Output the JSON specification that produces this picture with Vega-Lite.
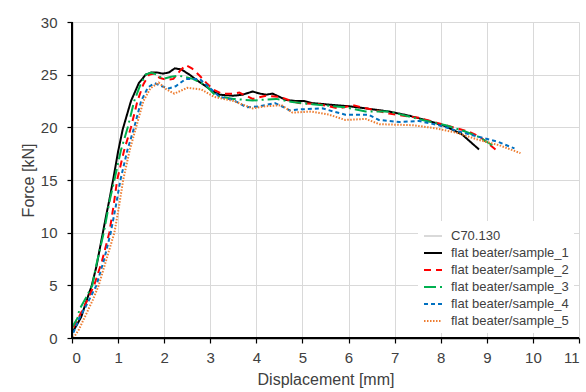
{
  "$schema": "https://vega.github.io/schema/vega-lite/v6.json",
  "width": 507,
  "height": 316,
  "autosize": {"type": "none"},
  "padding": {"left": 72, "top": 22, "right": 7, "bottom": 54},
  "config": {
    "view": {"stroke": null},
    "axis": {
      "domainColor": "#000000",
      "tickColor": "#000000",
      "domainWidth": 1.3,
      "tickWidth": 1.2,
      "gridColor": "#d9d9d9",
      "labelFont": "Liberation Sans",
      "labelFontSize": 15,
      "labelColor": "#404040",
      "titleFont": "Liberation Sans",
      "titleFontSize": 16,
      "titleFontWeight": "normal",
      "titleColor": "#404040"
    }
  },
  "data": {
    "values": [
      {"s": "flat beater/sample_1", "d": 0, "f": 0.5},
      {"s": "flat beater/sample_1", "d": 0.1, "f": 1.2},
      {"s": "flat beater/sample_1", "d": 0.2, "f": 2.0},
      {"s": "flat beater/sample_1", "d": 0.32, "f": 3.6},
      {"s": "flat beater/sample_1", "d": 0.43, "f": 5.0},
      {"s": "flat beater/sample_1", "d": 0.53, "f": 6.8},
      {"s": "flat beater/sample_1", "d": 0.6, "f": 8.4},
      {"s": "flat beater/sample_1", "d": 0.67, "f": 10.0},
      {"s": "flat beater/sample_1", "d": 0.74, "f": 11.6},
      {"s": "flat beater/sample_1", "d": 0.81, "f": 13.1},
      {"s": "flat beater/sample_1", "d": 0.9, "f": 15.2},
      {"s": "flat beater/sample_1", "d": 1.0, "f": 17.7},
      {"s": "flat beater/sample_1", "d": 1.1, "f": 19.8},
      {"s": "flat beater/sample_1", "d": 1.28, "f": 22.5},
      {"s": "flat beater/sample_1", "d": 1.45, "f": 24.2},
      {"s": "flat beater/sample_1", "d": 1.6, "f": 25.0},
      {"s": "flat beater/sample_1", "d": 1.72, "f": 25.2},
      {"s": "flat beater/sample_1", "d": 1.85, "f": 25.2},
      {"s": "flat beater/sample_1", "d": 1.97, "f": 25.1},
      {"s": "flat beater/sample_1", "d": 2.1, "f": 25.2},
      {"s": "flat beater/sample_1", "d": 2.23, "f": 25.6},
      {"s": "flat beater/sample_1", "d": 2.37, "f": 25.5},
      {"s": "flat beater/sample_1", "d": 2.55, "f": 25.0},
      {"s": "flat beater/sample_1", "d": 2.7, "f": 24.5},
      {"s": "flat beater/sample_1", "d": 2.87, "f": 24.0},
      {"s": "flat beater/sample_1", "d": 3.03, "f": 23.5},
      {"s": "flat beater/sample_1", "d": 3.2, "f": 23.1},
      {"s": "flat beater/sample_1", "d": 3.5, "f": 23.0},
      {"s": "flat beater/sample_1", "d": 3.7, "f": 23.1},
      {"s": "flat beater/sample_1", "d": 3.92, "f": 23.4},
      {"s": "flat beater/sample_1", "d": 4.08, "f": 23.2},
      {"s": "flat beater/sample_1", "d": 4.21, "f": 23.1},
      {"s": "flat beater/sample_1", "d": 4.35, "f": 23.2},
      {"s": "flat beater/sample_1", "d": 4.5, "f": 22.9},
      {"s": "flat beater/sample_1", "d": 4.64, "f": 22.6},
      {"s": "flat beater/sample_1", "d": 4.86, "f": 22.5},
      {"s": "flat beater/sample_1", "d": 5.03, "f": 22.5},
      {"s": "flat beater/sample_1", "d": 5.21, "f": 22.3},
      {"s": "flat beater/sample_1", "d": 5.47, "f": 22.2},
      {"s": "flat beater/sample_1", "d": 5.72, "f": 22.1},
      {"s": "flat beater/sample_1", "d": 6.02, "f": 22.0},
      {"s": "flat beater/sample_1", "d": 6.37, "f": 21.8},
      {"s": "flat beater/sample_1", "d": 6.88, "f": 21.5},
      {"s": "flat beater/sample_1", "d": 7.32, "f": 21.1},
      {"s": "flat beater/sample_1", "d": 7.75, "f": 20.6},
      {"s": "flat beater/sample_1", "d": 8.11, "f": 20.1},
      {"s": "flat beater/sample_1", "d": 8.47, "f": 19.3},
      {"s": "flat beater/sample_1", "d": 8.65, "f": 18.6},
      {"s": "flat beater/sample_1", "d": 8.83, "f": 17.9},

      {"s": "flat beater/sample_2", "d": 0.03, "f": 1.0},
      {"s": "flat beater/sample_2", "d": 0.15, "f": 2.0},
      {"s": "flat beater/sample_2", "d": 0.3, "f": 3.3},
      {"s": "flat beater/sample_2", "d": 0.48, "f": 5.0},
      {"s": "flat beater/sample_2", "d": 0.65, "f": 7.3},
      {"s": "flat beater/sample_2", "d": 0.81, "f": 10.0},
      {"s": "flat beater/sample_2", "d": 0.9, "f": 12.5},
      {"s": "flat beater/sample_2", "d": 0.98, "f": 15.0},
      {"s": "flat beater/sample_2", "d": 1.13, "f": 17.8},
      {"s": "flat beater/sample_2", "d": 1.28, "f": 20.0},
      {"s": "flat beater/sample_2", "d": 1.42, "f": 22.5},
      {"s": "flat beater/sample_2", "d": 1.55, "f": 24.1},
      {"s": "flat beater/sample_2", "d": 1.67, "f": 25.0},
      {"s": "flat beater/sample_2", "d": 1.78, "f": 25.1},
      {"s": "flat beater/sample_2", "d": 1.9, "f": 24.7},
      {"s": "flat beater/sample_2", "d": 2.05, "f": 24.5},
      {"s": "flat beater/sample_2", "d": 2.2, "f": 24.6},
      {"s": "flat beater/sample_2", "d": 2.35, "f": 25.4},
      {"s": "flat beater/sample_2", "d": 2.47, "f": 25.9},
      {"s": "flat beater/sample_2", "d": 2.6, "f": 25.6},
      {"s": "flat beater/sample_2", "d": 2.77, "f": 24.9},
      {"s": "flat beater/sample_2", "d": 2.92, "f": 24.2},
      {"s": "flat beater/sample_2", "d": 3.06, "f": 23.6},
      {"s": "flat beater/sample_2", "d": 3.25, "f": 23.2},
      {"s": "flat beater/sample_2", "d": 3.48, "f": 23.2},
      {"s": "flat beater/sample_2", "d": 3.63, "f": 23.3},
      {"s": "flat beater/sample_2", "d": 3.92, "f": 22.7},
      {"s": "flat beater/sample_2", "d": 4.21, "f": 23.0},
      {"s": "flat beater/sample_2", "d": 4.5, "f": 22.9},
      {"s": "flat beater/sample_2", "d": 4.7, "f": 22.6},
      {"s": "flat beater/sample_2", "d": 4.92, "f": 22.3},
      {"s": "flat beater/sample_2", "d": 5.36, "f": 22.2},
      {"s": "flat beater/sample_2", "d": 5.79, "f": 21.8},
      {"s": "flat beater/sample_2", "d": 6.09, "f": 22.1},
      {"s": "flat beater/sample_2", "d": 6.6, "f": 21.6},
      {"s": "flat beater/sample_2", "d": 6.88, "f": 21.3},
      {"s": "flat beater/sample_2", "d": 7.53, "f": 20.9},
      {"s": "flat beater/sample_2", "d": 8.11, "f": 20.2},
      {"s": "flat beater/sample_2", "d": 8.6, "f": 19.6},
      {"s": "flat beater/sample_2", "d": 8.85, "f": 19.1},
      {"s": "flat beater/sample_2", "d": 9.05, "f": 18.4},
      {"s": "flat beater/sample_2", "d": 9.27, "f": 17.6},

      {"s": "flat beater/sample_3", "d": 0, "f": 1.0},
      {"s": "flat beater/sample_3", "d": 0.12, "f": 1.9},
      {"s": "flat beater/sample_3", "d": 0.16, "f": 2.7},
      {"s": "flat beater/sample_3", "d": 0.3, "f": 3.8},
      {"s": "flat beater/sample_3", "d": 0.44, "f": 5.0},
      {"s": "flat beater/sample_3", "d": 0.52, "f": 6.8},
      {"s": "flat beater/sample_3", "d": 0.69, "f": 10.0},
      {"s": "flat beater/sample_3", "d": 0.82, "f": 13.1},
      {"s": "flat beater/sample_3", "d": 0.92, "f": 15.0},
      {"s": "flat beater/sample_3", "d": 1.06, "f": 17.8},
      {"s": "flat beater/sample_3", "d": 1.21, "f": 20.0},
      {"s": "flat beater/sample_3", "d": 1.35, "f": 22.5},
      {"s": "flat beater/sample_3", "d": 1.48, "f": 24.0},
      {"s": "flat beater/sample_3", "d": 1.6, "f": 25.0},
      {"s": "flat beater/sample_3", "d": 1.72, "f": 25.2},
      {"s": "flat beater/sample_3", "d": 1.84, "f": 25.0},
      {"s": "flat beater/sample_3", "d": 1.97, "f": 24.6},
      {"s": "flat beater/sample_3", "d": 2.15, "f": 24.8},
      {"s": "flat beater/sample_3", "d": 2.33, "f": 24.9},
      {"s": "flat beater/sample_3", "d": 2.62, "f": 24.6},
      {"s": "flat beater/sample_3", "d": 2.9, "f": 24.0},
      {"s": "flat beater/sample_3", "d": 3.12, "f": 23.0},
      {"s": "flat beater/sample_3", "d": 3.5, "f": 22.7},
      {"s": "flat beater/sample_3", "d": 3.92, "f": 22.55},
      {"s": "flat beater/sample_3", "d": 4.43, "f": 22.7},
      {"s": "flat beater/sample_3", "d": 4.78, "f": 22.4},
      {"s": "flat beater/sample_3", "d": 5.21, "f": 22.2},
      {"s": "flat beater/sample_3", "d": 5.93, "f": 21.9},
      {"s": "flat beater/sample_3", "d": 6.37, "f": 21.5},
      {"s": "flat beater/sample_3", "d": 6.88, "f": 21.5},
      {"s": "flat beater/sample_3", "d": 7.6, "f": 20.7},
      {"s": "flat beater/sample_3", "d": 8.11, "f": 20.2},
      {"s": "flat beater/sample_3", "d": 8.53, "f": 19.6},
      {"s": "flat beater/sample_3", "d": 8.82, "f": 19.1},
      {"s": "flat beater/sample_3", "d": 9.12, "f": 18.3},

      {"s": "flat beater/sample_4", "d": 0.03, "f": 0.5},
      {"s": "flat beater/sample_4", "d": 0.15, "f": 1.8},
      {"s": "flat beater/sample_4", "d": 0.3, "f": 3.0},
      {"s": "flat beater/sample_4", "d": 0.53, "f": 5.0},
      {"s": "flat beater/sample_4", "d": 0.7, "f": 7.5},
      {"s": "flat beater/sample_4", "d": 0.84, "f": 10.0},
      {"s": "flat beater/sample_4", "d": 0.95, "f": 12.5},
      {"s": "flat beater/sample_4", "d": 1.05, "f": 15.0},
      {"s": "flat beater/sample_4", "d": 1.2, "f": 17.8},
      {"s": "flat beater/sample_4", "d": 1.35, "f": 20.0},
      {"s": "flat beater/sample_4", "d": 1.5, "f": 22.5},
      {"s": "flat beater/sample_4", "d": 1.65, "f": 23.8},
      {"s": "flat beater/sample_4", "d": 1.79, "f": 24.2},
      {"s": "flat beater/sample_4", "d": 1.95, "f": 23.9},
      {"s": "flat beater/sample_4", "d": 2.1, "f": 23.7},
      {"s": "flat beater/sample_4", "d": 2.25, "f": 23.9},
      {"s": "flat beater/sample_4", "d": 2.47, "f": 24.6},
      {"s": "flat beater/sample_4", "d": 2.77, "f": 24.6},
      {"s": "flat beater/sample_4", "d": 3.0, "f": 23.7},
      {"s": "flat beater/sample_4", "d": 3.2, "f": 22.9},
      {"s": "flat beater/sample_4", "d": 3.5, "f": 22.6},
      {"s": "flat beater/sample_4", "d": 3.78, "f": 21.9},
      {"s": "flat beater/sample_4", "d": 4.07, "f": 22.0},
      {"s": "flat beater/sample_4", "d": 4.4, "f": 22.3},
      {"s": "flat beater/sample_4", "d": 4.55, "f": 22.0},
      {"s": "flat beater/sample_4", "d": 4.73, "f": 21.6},
      {"s": "flat beater/sample_4", "d": 4.93, "f": 21.7},
      {"s": "flat beater/sample_4", "d": 5.43, "f": 21.8},
      {"s": "flat beater/sample_4", "d": 5.93, "f": 21.2},
      {"s": "flat beater/sample_4", "d": 6.43, "f": 21.2},
      {"s": "flat beater/sample_4", "d": 6.66, "f": 20.7},
      {"s": "flat beater/sample_4", "d": 7.1, "f": 20.5},
      {"s": "flat beater/sample_4", "d": 7.53, "f": 20.6},
      {"s": "flat beater/sample_4", "d": 7.96, "f": 20.2},
      {"s": "flat beater/sample_4", "d": 8.4, "f": 19.6},
      {"s": "flat beater/sample_4", "d": 8.82, "f": 19.1},
      {"s": "flat beater/sample_4", "d": 9.26, "f": 18.6},
      {"s": "flat beater/sample_4", "d": 9.48, "f": 18.2},
      {"s": "flat beater/sample_4", "d": 9.6, "f": 18.0},

      {"s": "flat beater/sample_5", "d": 0.03, "f": 0},
      {"s": "flat beater/sample_5", "d": 0.15, "f": 0.8},
      {"s": "flat beater/sample_5", "d": 0.3, "f": 2.2},
      {"s": "flat beater/sample_5", "d": 0.45, "f": 3.6},
      {"s": "flat beater/sample_5", "d": 0.58, "f": 5.0},
      {"s": "flat beater/sample_5", "d": 0.75, "f": 7.5},
      {"s": "flat beater/sample_5", "d": 0.92, "f": 10.0},
      {"s": "flat beater/sample_5", "d": 1.02, "f": 12.5},
      {"s": "flat beater/sample_5", "d": 1.11, "f": 15.0},
      {"s": "flat beater/sample_5", "d": 1.25, "f": 17.8},
      {"s": "flat beater/sample_5", "d": 1.39, "f": 20.0},
      {"s": "flat beater/sample_5", "d": 1.55, "f": 22.5},
      {"s": "flat beater/sample_5", "d": 1.7, "f": 23.7},
      {"s": "flat beater/sample_5", "d": 1.88, "f": 24.25},
      {"s": "flat beater/sample_5", "d": 2.05, "f": 23.6},
      {"s": "flat beater/sample_5", "d": 2.22, "f": 23.2},
      {"s": "flat beater/sample_5", "d": 2.5, "f": 23.75},
      {"s": "flat beater/sample_5", "d": 2.8, "f": 23.6},
      {"s": "flat beater/sample_5", "d": 3.08, "f": 22.9},
      {"s": "flat beater/sample_5", "d": 3.5, "f": 22.5},
      {"s": "flat beater/sample_5", "d": 3.92, "f": 21.8},
      {"s": "flat beater/sample_5", "d": 4.2, "f": 22.0},
      {"s": "flat beater/sample_5", "d": 4.55, "f": 22.1},
      {"s": "flat beater/sample_5", "d": 4.78, "f": 21.4},
      {"s": "flat beater/sample_5", "d": 5.2, "f": 21.5},
      {"s": "flat beater/sample_5", "d": 5.58, "f": 21.2},
      {"s": "flat beater/sample_5", "d": 5.93, "f": 20.7},
      {"s": "flat beater/sample_5", "d": 6.37, "f": 20.8},
      {"s": "flat beater/sample_5", "d": 6.67, "f": 20.3},
      {"s": "flat beater/sample_5", "d": 7.4, "f": 20.2},
      {"s": "flat beater/sample_5", "d": 7.9, "f": 19.9},
      {"s": "flat beater/sample_5", "d": 8.33, "f": 19.5},
      {"s": "flat beater/sample_5", "d": 8.83, "f": 18.8},
      {"s": "flat beater/sample_5", "d": 9.27, "f": 18.3},
      {"s": "flat beater/sample_5", "d": 9.73, "f": 17.55}
    ]
  },
  "layer": [
    {
      "mark": {"type": "line", "strokeWidth": 2},
      "encoding": {
        "x": {
          "field": "d", "type": "quantitative",
          "scale": {"domain": [0, 11], "nice": false, "zero": false},
          "axis": {
            "values": [0,1,2,3,4,5,6,7,8,9,10,11],
            "tickSize": 5,
            "labelPadding": 7,
            "grid": true,
            "title": "Displacement [mm]",
            "titlePadding": 6
          }
        },
        "y": {
          "field": "f", "type": "quantitative",
          "scale": {"domain": [0, 30], "nice": false},
          "axis": {
            "values": [0,5,10,15,20,25,30],
            "tickSize": 5,
            "labelPadding": 10,
            "grid": true,
            "title": "Force [kN]",
            "titlePadding": 4
          }
        },
        "color": {
          "field": "s", "type": "nominal",
          "scale": {
            "domain": ["C70.130", "flat beater/sample_1", "flat beater/sample_2", "flat beater/sample_3", "flat beater/sample_4", "flat beater/sample_5"],
            "range": ["#d9d9d9", "#000000", "#ff0000", "#00b050", "#0070c0", "#ed7d31"]
          },
          "legend": {
            "orient": "bottom-right", "title": null,
            "labelFont": "Liberation Sans", "labelFontSize": 13, "labelColor": "#404040",
            "symbolType": "stroke", "symbolSize": 324, "symbolStrokeWidth": 2,
            "rowPadding": 0, "labelOffset": 8, "padding": 5, "offset": 5, "fillColor": "white"
          }
        },
        "strokeDash": {
          "field": "s", "type": "nominal",
          "scale": {
            "domain": ["C70.130", "flat beater/sample_1", "flat beater/sample_2", "flat beater/sample_3", "flat beater/sample_4", "flat beater/sample_5"],
            "range": [[1, 0], [1, 0], [7, 5], [12, 4, 2, 4], [4, 3], [1.5, 1.5]]
          },
          "legend": {
            "orient": "bottom-right", "title": null,
            "labelFont": "Liberation Sans", "labelFontSize": 13, "labelColor": "#404040",
            "symbolType": "stroke", "symbolSize": 324, "symbolStrokeWidth": 2,
            "rowPadding": 0, "labelOffset": 8, "padding": 5, "offset": 5, "fillColor": "white"
          }
        }
      }
    },
    {
      "mark": {"type": "rule", "color": "#000000", "strokeWidth": 1.3},
      "encoding": {"y": {"datum": 0, "type": "quantitative"}}
    },
    {
      "mark": {"type": "rule", "color": "#000000", "strokeWidth": 1.3},
      "encoding": {"x": {"datum": 0, "type": "quantitative"}}
    }
  ]
}
